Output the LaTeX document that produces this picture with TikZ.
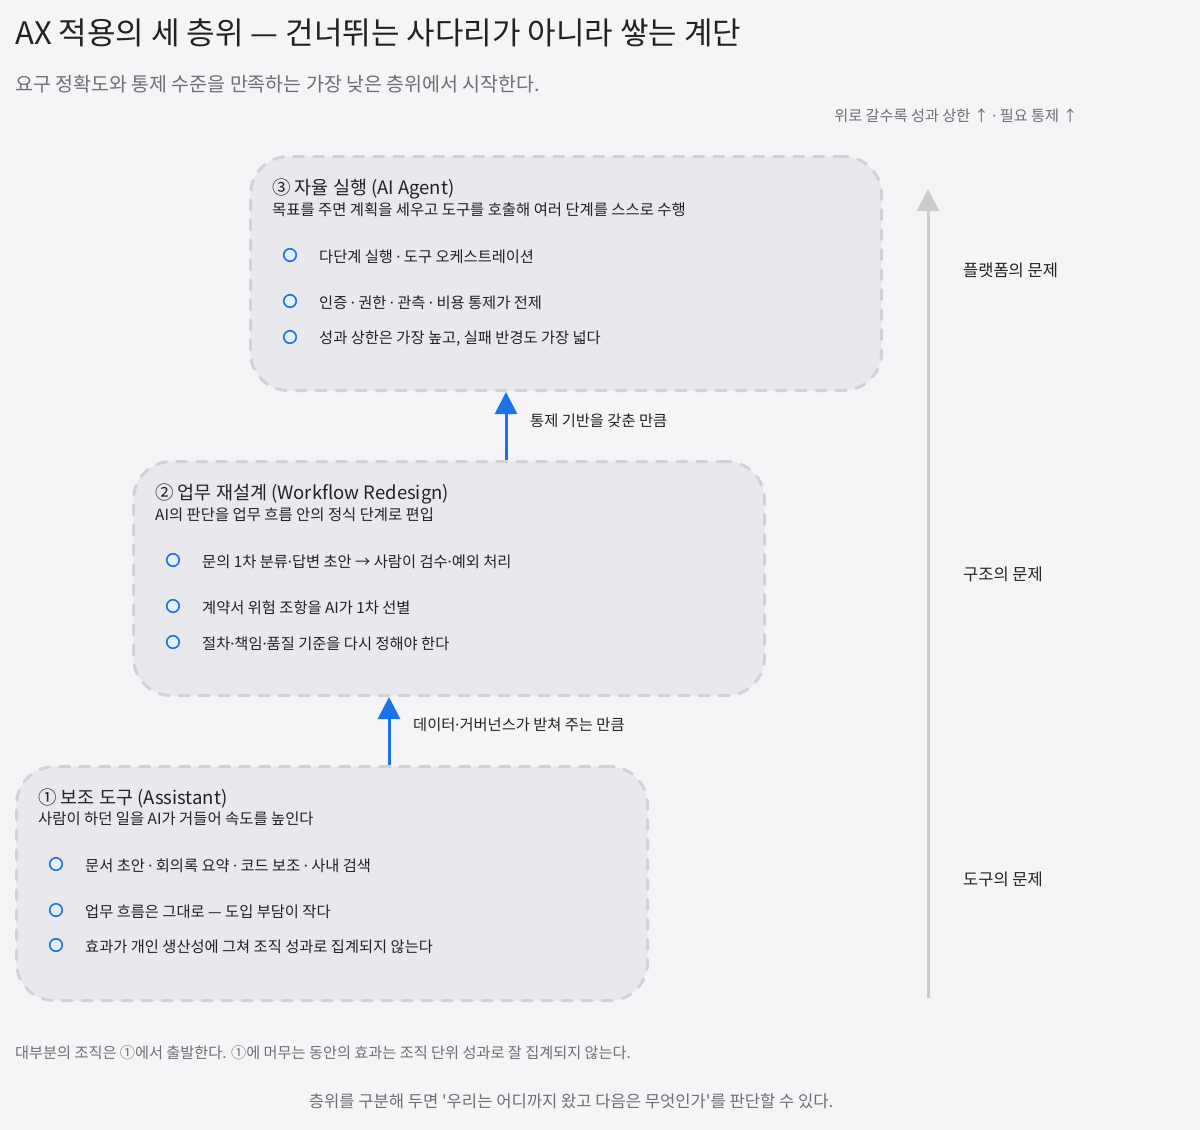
\documentclass[tikz,border=0pt]{standalone}
\usepackage{fontspec}
\setmainfont{Noto Sans CJK KR}
\newfontfamily\latfont{Noto Sans}
\newcommand\md{{\latfont ·}}
\usetikzlibrary{arrows.meta}
\definecolor{bgc}{HTML}{F5F5F7}
\definecolor{boxfill}{HTML}{E9E9ED}
\definecolor{boxline}{HTML}{D2D2D6}
\definecolor{flowblue}{HTML}{1A73E8}
\definecolor{dotfill}{HTML}{E6F1FD}
\definecolor{axisgray}{HTML}{CCCCCE}
\definecolor{txt}{HTML}{222224}
\definecolor{subtxt}{HTML}{6E6E73}
\begin{document}
\begin{tikzpicture}[x=1pt,y=-1pt,
  layer/.style={draw=boxline, fill=boxfill, line width=3pt, line cap=round, dash pattern=on 10pt off 10pt,
    rounded corners=38pt, minimum width=631pt, minimum height=234pt, anchor=north west, inner sep=0pt},
  ltitle/.style={anchor=west, inner sep=0pt, font=\fontsize{18.5}{21}\selectfont, text=txt},
  lsub/.style={anchor=west, inner sep=0pt, font=\fontsize{15.4}{18}\selectfont, text=txt},
  item/.style={anchor=west, inner sep=0pt, font=\fontsize{15.3}{18}\selectfont, text=txt},
  dot/.style={circle, draw=flowblue, fill=dotfill, line width=1.6pt, minimum size=12.5pt, inner sep=0pt},
  flow/.style={draw=flowblue, line width=3pt, -{Triangle[width=22pt,length=22pt]}},
  flowlbl/.style={anchor=west, inner sep=0pt, font=\fontsize{15.3}{18}\selectfont, text=txt},
  axisline/.style={draw=axisgray, line width=3pt, -{Triangle[width=22pt,length=22pt]}},
  axislbl/.style={anchor=west, inner sep=0pt, font=\fontsize{16.5}{19}\selectfont, text=txt},
  note/.style={inner sep=0pt, font=\fontsize{15}{18}\selectfont, text=subtxt}
]
\fill[bgc] (0,0) rectangle (1200,1130);
\useasboundingbox (0,0) rectangle (1200,1130);

% title
\node[anchor=west, inner sep=0pt, font=\fontsize{31}{35}\selectfont, text=txt] (title) at (15,33) {AX 적용의 세 층위 — 건너뛰는 사다리가 아니라 쌓는 계단};
\node[anchor=west, inner sep=0pt, font=\fontsize{19.5}{23}\selectfont, text=subtxt] (subtitle) at (15,84) {요구 정확도와 통제 수준을 만족하는 가장 낮은 층위에서 시작한다.};
\node[anchor=east, note, font=\fontsize{15.2}{18}\selectfont] (hint) at (1078,116) {위로 갈수록 성과 상한 ↑ \md{} 필요 통제 ↑};

% boxes
\node[layer] (b3) at (249,155) {};
\node[layer] (b2) at (132,460) {};
\node[layer] (b1) at (15,765) {};

% box 3
\node[ltitle] (t3) at (272,189) {③ 자율 실행 (AI Agent)};
\node[lsub] (s3) at (272,210) {목표를 주면 계획을 세우고 도구를 호출해 여러 단계를 스스로 수행};
\node[dot] (d31) at (290,255) {};
\node[item] (i31) at (319,257) {다단계 실행 \md{} 도구 오케스트레이션};
\node[dot] (d32) at (290,301) {};
\node[item] (i32) at (319,303) {인증 \md{} 권한 \md{} 관측 \md{} 비용 통제가 전제};
\node[dot] (d33) at (290,337) {};
\node[item] (i33) at (319,339) {성과 상한은 가장 높고, 실패 반경도 가장 넓다};

% box 2
\node[ltitle] (t2) at (155,494) {② 업무 재설계 (Workflow Redesign)};
\node[lsub] (s2) at (155,515) {AI의 판단을 업무 흐름 안의 정식 단계로 편입};
\node[dot] (d21) at (173,560) {};
\node[item] (i21) at (202,562) {문의 1차 분류\md{}답변 초안 → 사람이 검수\md{}예외 처리};
\node[dot] (d22) at (173,606) {};
\node[item] (i22) at (202,608) {계약서 위험 조항을 AI가 1차 선별};
\node[dot] (d23) at (173,642) {};
\node[item] (i23) at (202,644) {절차\md{}책임\md{}품질 기준을 다시 정해야 한다};

% box 1
\node[ltitle] (t1) at (38,798) {① 보조 도구 (Assistant)};
\node[lsub] (s1) at (38,819) {사람이 하던 일을 AI가 거들어 속도를 높인다};
\node[dot] (d11) at (56,864) {};
\node[item] (i11) at (85,866) {문서 초안 \md{} 회의록 요약 \md{} 코드 보조 \md{} 사내 검색};
\node[dot] (d12) at (56,910) {};
\node[item] (i12) at (85,912) {업무 흐름은 그대로 — 도입 부담이 작다};
\node[dot] (d13) at (56,945) {};
\node[item] (i13) at (85,947) {효과가 개인 생산성에 그쳐 조직 성과로 집계되지 않는다};

% flows
\coordinate (x12) at (389,0);
\coordinate (x23) at (506,0);
\draw[flow] (b1.north -| x12) -- (b2.south -| x12);
\draw[flow] (b2.north -| x23) -- (b3.south -| x23);
\node[flowlbl] (f12) at (413,725) {데이터\md{}거버넌스가 받쳐 주는 만큼};
\node[flowlbl] (f23) at (530,421) {통제 기반을 갖춘 만큼};

% axis
\coordinate (axbot) at (928,998);
\coordinate (axtop) at (928,189);
\draw[axisline] (axbot) -- (axtop);
\node[axislbl] (a3) at (963,270) {플랫폼의 문제};
\node[axislbl] (a2) at (963,574) {구조의 문제};
\node[axislbl] (a1) at (963,879) {도구의 문제};

% notes
\node[note, anchor=west, font=\fontsize{15.2}{18}\selectfont] (n1) at (15,1053) {대부분의 조직은 ①에서 출발한다. ①에 머무는 동안의 효과는 조직 단위 성과로 잘 집계되지 않는다.};
\node[note, font=\fontsize{16.6}{19}\selectfont] (n2) at (571,1101) {층위를 구분해 두면 \textquotesingle 우리는 어디까지 왔고 다음은 무엇인가\textquotesingle 를 판단할 수 있다.};
\end{tikzpicture}
\end{document}
